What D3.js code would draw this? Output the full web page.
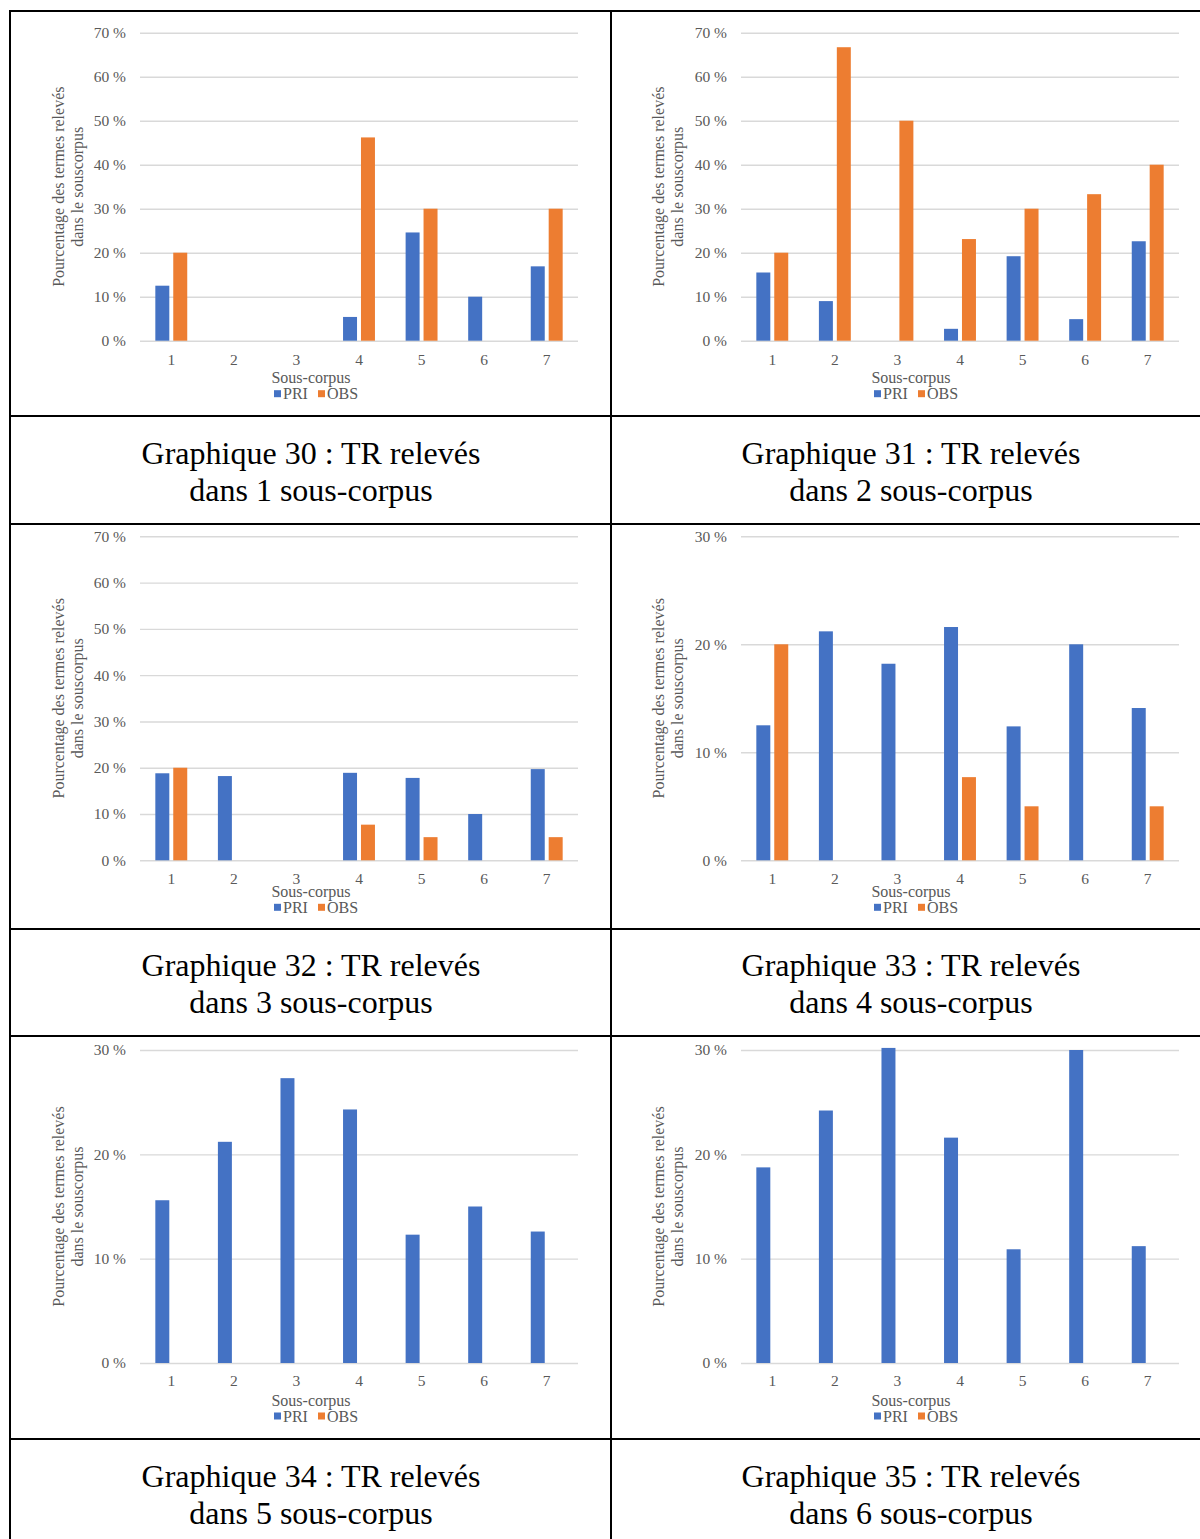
<!DOCTYPE html>
<html>
<head>
<meta charset="utf-8">
<script src="https://cdn.jsdelivr.net/npm/d3@7"></script>
<style>
  html, body { margin: 0; padding: 0; background: #fff; }
  svg { display: block; }
  text { font-family: "Liberation Serif", "Times New Roman", serif; }
</style>
</head>
<body>
<svg id="chart" width="1200" height="1539"></svg>
<script>
// ---- data ----
const categories = ["1", "2", "3", "4", "5", "6", "7"];
const seriesNames = ["PRI", "OBS"];
const ticks70 = [0, 10, 20, 30, 40, 50, 60, 70];
const ticks30 = [0, 10, 20, 30];

const pri30 = [12.5, 0, 0, 5.4, 24.6, 10.0, 16.9];
const obs30 = [20.0, 0, 0, 46.2, 30.0, 0, 30.0];
const pri31 = [15.5, 9.0, 0, 2.7, 19.2, 4.9, 22.6];
const obs31 = [20.0, 66.7, 50.0, 23.1, 30.0, 33.3, 40.0];
const pri32 = [18.8, 18.2, 0, 18.9, 17.8, 10.0, 19.7];
const obs32 = [20.0, 0, 0, 7.7, 5.0, 0, 5.0];
const pri33 = [12.5, 21.2, 18.2, 21.6, 12.4, 20.0, 14.1];
const obs33 = [20.0, 0, 0, 7.7, 5.0, 0, 5.0];
const pri34 = [15.6, 21.2, 27.3, 24.3, 12.3, 15.0, 12.6];
const obs34 = [0, 0, 0, 0, 0, 0, 0];
const pri35 = [18.75, 24.2, 30.2, 21.6, 10.9, 30.0, 11.2];
const obs35 = [0, 0, 0, 0, 0, 0, 0];

const captionNumbers = [30, 31, 32, 33, 34, 35];
const captionCounts = [1, 2, 3, 4, 5, 6];
const yTitle1 = "Pourcentage des termes relevés";
const yTitle2 = "dans le souscorpus";
const xTitle = "Sous-corpus";

// ---- styling / layout ----
const colors = { PRI: "#4472C4", OBS: "#ED7D31" };
const textGray = "#595959";
const gridGray = "#D9D9D9";

const colX = [ { left: 140, right: 578, titleX: 58, center: 311 },
               { left: 741, right: 1179, titleX: 658, center: 911 } ];
const rows = [
  { top: 32.7, bottom: 340.7, catDy: 19, xtDy: 37, legDy: 53, capY: [453, 490] },
  { top: 536.3, bottom: 860.3, catDy: 18, xtDy: 31, legDy: 47, capY: [965, 1002] },
  { top: 1050, bottom: 1363, catDy: 18, xtDy: 37, legDy: 53, capY: [1476, 1513] }
];

const panels = [
  { pri: pri30, obs: obs30, ticks: ticks70, max: 70 },
  { pri: pri31, obs: obs31, ticks: ticks70, max: 70 },
  { pri: pri32, obs: obs32, ticks: ticks70, max: 70 },
  { pri: pri33, obs: obs33, ticks: ticks30, max: 30 },
  { pri: pri34, obs: obs34, ticks: ticks30, max: 30 },
  { pri: pri35, obs: obs35, ticks: ticks30, max: 30 }
];

const svg = d3.select("#chart");
svg.append("rect").attr("width", 1200).attr("height", 1539).attr("fill", "#fff");

panels.forEach((p, i) => {
  const col = colX[i % 2];
  const row = rows[Math.floor(i / 2)];
  const g = svg.append("g");

  const x = d3.scaleBand().domain(categories).range([col.left, col.right])
    .paddingInner(0.49).paddingOuter(0.245);
  const xi = d3.scaleBand().domain(seriesNames).range([0, x.bandwidth()]).paddingInner(0.22);
  const y = d3.scaleLinear().domain([0, p.max]).range([row.bottom, row.top]);

  // y axis with gridlines
  const yAxis = d3.axisLeft(y).tickValues(p.ticks).tickFormat(d => d + " %")
    .tickSize(-(col.right - col.left)).tickPadding(14);
  const ya = g.append("g").attr("transform", `translate(${col.left},0)`).call(yAxis);
  ya.select(".domain").remove();
  ya.selectAll(".tick line").attr("stroke", gridGray).attr("stroke-width", 1.4);
  ya.selectAll(".tick text").attr("fill", textGray).attr("font-size", 15.5)
    .style("font-family", '"Liberation Serif", serif');

  // bars
  const data = categories.map((c, k) => ({ c, vals: [
    { s: "PRI", v: p.pri[k] }, { s: "OBS", v: p.obs[k] } ] }));
  const grp = g.selectAll(".grp").data(data).join("g")
    .attr("transform", d => `translate(${x(d.c)},0)`);
  grp.selectAll("rect").data(d => d.vals.filter(e => e.v > 0)).join("rect")
    .attr("x", e => xi(e.s))
    .attr("width", xi.bandwidth())
    .attr("y", e => y(e.v))
    .attr("height", e => y(0) - y(e.v))
    .attr("fill", e => colors[e.s]);

  // x axis labels
  const xAxis = d3.axisBottom(x).tickSize(0).tickPadding(0);
  const xa = g.append("g").attr("transform", `translate(0,${row.bottom + row.catDy})`).call(xAxis);
  xa.select(".domain").remove();
  xa.selectAll(".tick text").attr("fill", textGray).attr("font-size", 15.5)
    .attr("dy", "0.35em").attr("y", 0)
    .style("font-family", '"Liberation Serif", serif');

  const midX = col.center;
  g.append("text").attr("x", midX).attr("y", row.bottom + row.xtDy).attr("dy", "0.35em")
    .attr("text-anchor", "middle").attr("fill", textGray).attr("font-size", 16).text(xTitle);

  // legend
  const legY = row.bottom + row.legDy;
  const leg = g.append("g");
  const items = [{ s: "PRI", x: midX - 37 }, { s: "OBS", x: midX + 7 }];
  items.forEach(it => {
    leg.append("rect").attr("x", it.x).attr("y", legY - 3.5).attr("width", 7).attr("height", 7)
      .attr("fill", colors[it.s]);
    leg.append("text").attr("x", it.x + 9).attr("y", legY).attr("dy", "0.35em")
      .attr("fill", textGray).attr("font-size", 16).text(it.s);
  });

  // y title
  const cy = (row.top + row.bottom) / 2;
  [yTitle1, yTitle2].forEach((t, k) => {
    g.append("text")
      .attr("transform", `translate(${col.titleX + k * 19},${cy}) rotate(-90)`)
      .attr("text-anchor", "middle").attr("dy", "0.35em")
      .attr("fill", textGray).attr("font-size", 16).text(t);
  });

  // caption
  const cap = svg.append("g");
  cap.append("text").attr("x", col.center).attr("y", row.capY[0]).attr("dy", "0.35em")
    .attr("text-anchor", "middle").attr("fill", "#000").attr("font-size", 32)
    .text(`Graphique ${captionNumbers[i]} : TR relevés`);
  cap.append("text").attr("x", col.center).attr("y", row.capY[1]).attr("dy", "0.35em")
    .attr("text-anchor", "middle").attr("fill", "#000").attr("font-size", 32)
    .text(`dans ${captionCounts[i]} sous-corpus`);
});

// table borders
const bord = svg.append("g").attr("stroke", "#000").attr("stroke-width", 2);
[11, 416, 524, 929, 1036, 1439].forEach(yy => {
  bord.append("line").attr("x1", 9).attr("x2", 1200).attr("y1", yy).attr("y2", yy);
});
[10, 611].forEach(xx => {
  bord.append("line").attr("x1", xx).attr("x2", xx).attr("y1", 10).attr("y2", 1539);
});
</script>
</body>
</html>
